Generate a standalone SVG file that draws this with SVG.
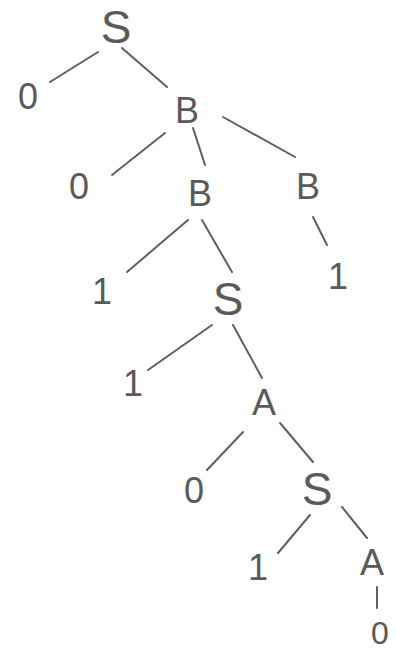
<svg xmlns="http://www.w3.org/2000/svg" width="396" height="654" viewBox="0 0 396 654">
<style>
.n{font-family:"Liberation Sans",Arial,sans-serif;fill:#5a5a5a;text-anchor:middle;font-size:36px}
.big{font-size:46px}
.e{stroke:#5f5f5f;stroke-width:2;stroke-linecap:round;fill:none}
</style>
<rect width="396" height="654" fill="#ffffff"/>
<g id="connectors" class="e">
<line x1="98" y1="52" x2="50" y2="82"/>
<line x1="122" y1="48" x2="167" y2="87"/>
<line x1="165" y1="133" x2="112" y2="175"/>
<line x1="193" y1="128" x2="205" y2="165"/>
<line x1="223" y1="117" x2="295" y2="157"/>
<line x1="313" y1="217" x2="327" y2="245"/>
<line x1="188" y1="220" x2="127" y2="272"/>
<line x1="202" y1="220" x2="232" y2="272"/>
<line x1="212" y1="325" x2="148" y2="370"/>
<line x1="233" y1="325" x2="262" y2="378"/>
<line x1="243" y1="432" x2="207" y2="470"/>
<line x1="280" y1="423" x2="313" y2="462"/>
<line x1="310" y1="515" x2="278" y2="553"/>
<line x1="342" y1="507" x2="367" y2="538"/>
<line x1="377" y1="587" x2="377" y2="608"/>
</g>
<g id="S1"><text class="n big" x="116" y="43">S</text></g>
<g id="n0a"><text class="n" x="28" y="109">0</text></g>
<g id="B1"><text class="n" x="187" y="123">B</text></g>
<g id="n0b"><text class="n" x="79" y="199">0</text></g>
<g id="B2"><text class="n" x="200" y="206">B</text></g>
<g id="B3"><text class="n" x="308" y="199">B</text></g>
<g id="n1a"><text class="n" x="338" y="289">1</text></g>
<g id="n1b"><text class="n" x="102" y="304">1</text></g>
<g id="S2"><text class="n big" x="228" y="315">S</text></g>
<g id="n1c"><text class="n" x="133" y="396">1</text></g>
<g id="A1"><text class="n" x="264" y="415">A</text></g>
<g id="n0c"><text class="n" x="194" y="503">0</text></g>
<g id="S3"><text class="n big" x="317" y="505">S</text></g>
<g id="n1d"><text class="n" x="258" y="580">1</text></g>
<g id="A2"><text class="n" x="372" y="575">A</text></g>
<g id="n0d"><text class="n" x="380" y="644" style="font-size:32px">0</text></g>
</svg>
